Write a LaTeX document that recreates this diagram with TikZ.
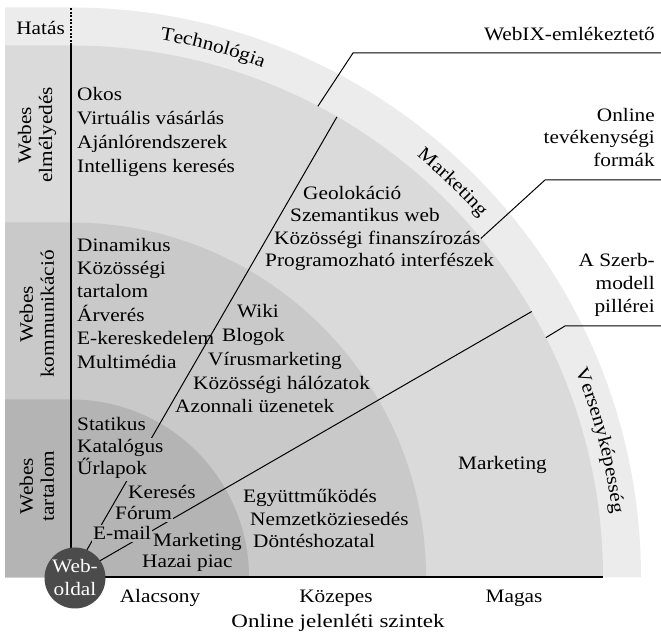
\documentclass[tikz,border=0pt]{standalone}
\usepackage{fontspec}
\setmainfont{Liberation Serif}[FakeStretch=1.12]
\usetikzlibrary{calc,decorations.text}
\definecolor{bandA}{HTML}{ECECEC}
\definecolor{bandB}{HTML}{DADADA}
\definecolor{bandC}{HTML}{C9C9C9}
\definecolor{bandD}{HTML}{B4B4B4}
\definecolor{webc}{HTML}{4B4B4B}
\tikzset{
  item/.style={anchor=base west, inner sep=0pt},
  masked/.style={anchor=base west, fill=bandD, inner xsep=1pt, inner ysep=2pt},
  rlabel/.style={anchor=base east, inner sep=0pt},
  axislabel/.style={anchor=base, inner sep=0pt},
  sidelabel/.style={rotate=90, align=center, inner sep=0pt, font=\fontsize{19}{21}\selectfont},
  leader/.style={line width=1pt},
  axisline/.style={line width=2pt},
  ringtext/.style={decorate, decoration={text along path, text align=center, text={#1}}}
}
\begin{document}
\begin{tikzpicture}[x=1pt,y=1pt]
\fontsize{19}{23.5}\selectfont
\useasboundingbox (0,0) rectangle (661,636);
\coordinate (O) at (71,58.5);
% bands
\fill[bandA] (5,58.5) |- (71,628.5) arc[start angle=90,end angle=0,radius=570] -- cycle;
\fill[bandB] (5,58.5) |- (71,590.5) arc[start angle=90,end angle=0,radius=532] -- cycle;
\fill[bandC] (5,58.5) |- (71,413.5) arc[start angle=90,end angle=0,radius=355] -- cycle;
\fill[bandD] (5,58.5) |- (71,236.5) arc[start angle=90,end angle=0,radius=178] -- cycle;
% axes
\coordinate (vtop) at (71,590.5);
\coordinate (vtop2) at (71,628.5);
\coordinate (hend) at (603,58.5);
\draw[axisline] (O) -- (vtop);
\draw[axisline, dash pattern=on 2pt off 1.5pt] (vtop) -- (vtop2);
\draw[axisline] (O) -- (hend);
% radial dividers
\coordinate (B60) at ($(O)+(60:532)$);
\coordinate (C30) at ($(O)+(30:532)$);
\draw[leader] (O) -- (B60);
\draw[leader] (O) -- (C30);
% leaders
\coordinate (LA) at ($(O)+(62.35:532)$);
\coordinate (LAk) at (353,583);
\coordinate (LAe) at (661,583);
\coordinate (LB) at ($(O)+(39.6:532)$);
\coordinate (LBk) at (545,456);
\coordinate (LBe) at (661,456);
\coordinate (LC) at ($(O)+(26.8:532)$);
\coordinate (LCk) at (565,310);
\coordinate (LCe) at (661,310);
\draw[leader] (LA) -- (LAk) -- (LAe);
\draw[leader] (LB) -- (LBk) -- (LBe);
\draw[leader] (LC) -- (LCk) -- (LCe);
% right labels
\node[rlabel] (webix) at (655,595) {WebIX-emlékeztető};
\node[rlabel] (onl1) at (655,514) {Online};
\node[rlabel] (onl2) at (655,492) {tevékenységi};
\node[rlabel] (onl3) at (655,469) {formák};
\node[rlabel] (szb1) at (655,369) {A Szerb-};
\node[rlabel] (szb2) at (655,346) {modell};
\node[rlabel] (szb3) at (655,323) {pillérei};
\node[rlabel] (hatas) at (65,601) {Hatás};
% side labels
\node[sidelabel] (s1) at (37,501) {Webes\\elmélyedés};
\node[sidelabel] (s2) at (37,322) {Webes\\kommunikáció};
\node[sidelabel] (s3) at (37,150) {Webes\\tartalom};
% left column
\node[item] (a1) at (77,535) {Okos};
\node[item] (a2) at (77,511) {Virtuális vásárlás};
\node[item] (a3) at (77,487) {Ajánlórendszerek};
\node[item] (a4) at (77,463) {Intelligens keresés};
\node[item] (b1) at (77,384) {Dinamikus};
\node[item] (b2) at (77,361) {Közösségi};
\node[item] (b3) at (77,338) {tartalom};
\node[item] (b4) at (77,314) {Árverés};
\node[item] (b5) at (77,291) {E-kereskedelem};
\node[item] (b6) at (77,267) {Multimédia};
\node[masked] (c1) at (76,205) {Statikus};
\node[masked] (c2) at (76,183) {Katalógus};
\node[masked] (c3) at (76,161) {Űrlapok};
\node[masked] (d1) at (127,137) {Keresés};
\node[masked] (d2) at (114,116) {Fórum};
\node[masked] (d3) at (92,96) {E-mail};
\node[masked] (e1) at (152,89) {Marketing};
\node[masked] (e2) at (141,68) {Hazai piac};
% middle column
\node[item] (f1) at (303,436) {Geolokáció};
\node[item] (f2) at (290,414) {Szemantikus web};
\node[item] (f3) at (274,391) {Közösségi finanszírozás};
\node[item] (f4) at (265,369) {Programozható interfészek};
\node[item] (g1) at (237,318) {Wiki};
\node[item] (g2) at (222,294) {Blogok};
\node[item] (g3) at (208,270) {Vírusmarketing};
\node[item] (g4) at (193,246) {Közösségi hálózatok};
\node[item] (g5) at (175,223) {Azonnali üzenetek};
\node[item] (h1) at (243,133) {Együttműködés};
\node[item] (h2) at (250,110) {Nemzetköziesedés};
\node[item] (h3) at (253,88) {Döntéshozatal};
\node[item] (m1) at (458,166) {Marketing};
% axis labels
\node[axislabel] (x1) at (160,33) {Alacsony};
\node[axislabel] (x2) at (336,33) {Közepes};
\node[axislabel] (x3) at (514,33) {Magas};
\node[axislabel, xscale=1.08] (xt) at (338,8) {Online jelenléti szintek};
% ring texts
\path[ringtext={Technológia}] ($(O)+(90:545)$) arc[start angle=90,end angle=60,radius=545];
\path[ringtext={Marketing}] ($(O)+(61:545)$) arc[start angle=61,end angle=31,radius=545];
\path[ringtext={Versenyképesség}] ($(O)+(33:545)$) arc[start angle=33,end angle=-4,radius=545];
% web circle
\node[circle, fill=webc, minimum size=61pt, inner sep=0pt, text=white, align=center,
      font=\fontsize{19}{23}\selectfont] (web) at (75,58) {Web-\\oldal};
\end{tikzpicture}
\end{document}
